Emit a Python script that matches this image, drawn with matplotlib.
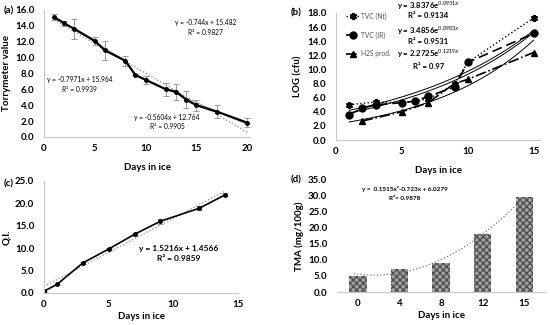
import numpy as np
import matplotlib.pyplot as plt

plt.rcParams['font.family'] = ['Lato', 'DejaVu Sans']
plt.rcParams['mathtext.fontset'] = 'custom'
plt.rcParams['mathtext.rm'] = 'Lato'
plt.rcParams['mathtext.bf'] = 'Lato:bold'

# (a) torrymeter
days_a = [1, 2, 3, 5, 6, 8, 9, 10, 12, 13, 14, 15, 17, 20]
torry = [15.1, 14.3, 13.6, 12.1, 10.9, 9.6, 7.8, 7.2, 6.0, 5.7, 4.7, 4.0, 3.2, 1.8]
torry_err = [0.4, 0.3, 1.2, 0.5, 1.2, 0.6, 0.1, 0.5, 0.8, 1.0, 1.1, 0.7, 0.8, 0.6]
fit_all = (-0.744, 15.482)
fit_early = (-0.7971, 15.964)
fit_late = (-0.5604, 12.764)

# (b) microbial counts
days_nt = [1, 3, 5, 7, 9, 10, 15]
tvc_nt = [5.0, 5.4, 5.3, 5.8, 7.9, 11.0, 17.3]
days_ir = [1, 2, 3, 5, 6, 7, 9, 10, 15]
tvc_ir = [3.6, 4.5, 5.0, 5.3, 5.5, 6.2, 7.5, 11.0, 15.1]
days_h2s = [2, 5, 7, 9, 10, 15]
h2s = [2.7, 4.0, 5.3, 8.0, 8.6, 12.4]
exp_fits = [(3.8376, 0.0931), (3.4856, 0.0983), (2.2725, 0.1219)]

# (c) quality index
days_c = [0, 1, 3, 5, 7, 9, 12, 14]
qi = [0.4, 1.9, 6.7, 9.8, 13.1, 16.0, 18.9, 21.9]
qi_err = [0.1, 0.2, 0.3, 0.3, 0.3, 0.6, 0.4, 0.3]
fit_qi = (1.5216, 1.4566)

# (d) TMA
tma_days = ['0', '4', '8', '12', '15']
tma = [5.1, 7.2, 9.1, 18.2, 29.8]

fig = plt.figure(figsize=(5.5, 3.25), dpi=100)
tick_kw = dict(labelsize=7, length=0, pad=7)
spine_col = '#c8c8c8'
lab_kw = dict(fontsize=7, fontweight='bold')


def style(ax):
    for s in ['top', 'right']:
        ax.spines[s].set_visible(False)
    for s in ['left', 'bottom']:
        ax.spines[s].set_color(spine_col)
        ax.spines[s].set_linewidth(0.8)
    ax.tick_params(**tick_kw)
    ax.tick_params(axis='x', pad=5)
    for lab in ax.get_xticklabels() + ax.get_yticklabels():
        lab.set_fontweight('bold')


# ---- (a)
ax = fig.add_axes([0.08, 0.5785, 0.375, 0.391])
x = np.array([1, 20])
ax.plot(x, fit_all[0] * x + fit_all[1], ':', color='#888888', lw=0.9)
x = np.array([1, 8])
ax.plot(x, fit_early[0] * x + fit_early[1], color='#aaaaaa', lw=0.7)
x = np.array([9, 20])
ax.plot(x, fit_late[0] * x + fit_late[1], color='#aaaaaa', lw=0.7)
ax.errorbar(days_a, torry, yerr=torry_err, fmt='none', ecolor='#9a9a9a',
            elinewidth=0.7, capsize=2, capthick=0.7)
ax.plot(days_a, torry, '-o', color='black', lw=1.6, ms=2.5)
ax.set_xlim(0, 20.3)
ax.set_ylim(0, 16)
ax.set_xticks([0, 5, 10, 15, 20])
ax.set_yticks(np.arange(0, 17, 2))
ax.set_yticklabels([f'{v:.1f}' for v in np.arange(0, 17, 2)])
ax.set_ylabel('Torrymeter value', labelpad=3, **lab_kw)
ax.set_xlabel('Days in ice', labelpad=7, **lab_kw)
style(ax)
eq_kw = dict(fontsize=4.8, ha='center', va='center')
ax.text(15.9, 14.4, 'y = -0.744x + 15.482', **eq_kw)
ax.text(15.9, 13.1, 'R² = 0.9827', **eq_kw)
ax.text(3.5, 7.2, 'y = -0.7971x + 15.964', **eq_kw)
ax.text(3.5, 6.0, 'R² = 0.9939', **eq_kw)
ax.text(12.1, 2.4, 'y = -0.5604x + 12.764', **eq_kw)
ax.text(12.1, 1.3, 'R² = 0.9905', **eq_kw)
fig.text(0.006, 0.965, '(a)', fontsize=7, fontweight='bold', va='center')

# ---- (b)
ax = fig.add_axes([0.611, 0.569, 0.371, 0.391])
xs = np.linspace(1, 15, 100)
for a, b in exp_fits:
    ax.plot(xs, a * np.exp(b * xs), color='black', lw=0.7)
ax.plot(days_nt, tvc_nt, ':', color='black', lw=1.0, marker=(6, 2, 0),
        ms=5, mew=1.5, label='TVC (Nt)')
ax.plot(days_ir, tvc_ir, '-', color='black', lw=1.2, marker='o', ms=5,
        dashes=(6, 3), label='TVC (IR)')
ax.plot(days_h2s, h2s, '-.', color='black', lw=1.2, marker='^', ms=4,
        label='H2S prod.')
ax.set_xlim(0, 15.5)
ax.set_ylim(0, 18)
ax.set_xticks([0, 5, 10, 15])
ax.set_yticks(np.arange(0, 19, 2))
ax.set_yticklabels([f'{v:.1f}' for v in np.arange(0, 19, 2)])
ax.set_ylabel('LOG (cfu)', labelpad=3, **lab_kw)
ax.set_xlabel('Days in ice', labelpad=7, **lab_kw)
style(ax)
leg = ax.legend(loc='upper left', bbox_to_anchor=(0.02, 1.05), frameon=False,
                fontsize=4.8, handlelength=2.0, labelspacing=1.75,
                handletextpad=0.3)
for t in leg.get_texts():
    t.set_color('#555555')
eqs = ['y = 3.8376e$^{0.0931x}$', 'R² = 0.9134',
       'y = 3.4856e$^{0.0983x}$', 'R² = 0.9531',
       'y = 2.2725e$^{0.1219x}$', 'R² = 0.97']
for t, yy in zip(eqs, [19.1, 17.6, 15.5, 13.9, 12.2, 10.4]):
    ax.text(7.0, yy, t, fontsize=5.6, fontweight='bold', ha='center',
            va='center', clip_on=False)
fig.text(0.528, 0.96, '(b)', fontsize=7, fontweight='bold', va='center')

# ---- (c)
ax = fig.add_axes([0.08, 0.0985, 0.353, 0.345])
x = np.array([0, 14])
ax.plot(x, fit_qi[0] * x + fit_qi[1], ':', color='#888888', lw=0.9)
ax.errorbar(days_c, qi, yerr=qi_err, fmt='none', ecolor='#9a9a9a',
            elinewidth=0.7, capsize=2, capthick=0.7)
ax.plot(days_c, qi, '-o', color='black', lw=1.2, ms=2.5)
ax.set_xlim(0, 15)
ax.set_ylim(0, 25)
ax.set_xticks([0, 5, 10, 15])
ax.set_yticks(np.arange(0, 26, 5))
ax.set_yticklabels([f'{v:.1f}' for v in np.arange(0, 26, 5)])
ax.set_ylabel('Q.I.', labelpad=3, **lab_kw)
ax.set_xlabel('Days in ice', labelpad=2, **lab_kw)
style(ax)
ax.text(10.4, 10.0, 'y = 1.5216x + 1.4566', fontsize=6, fontweight='bold',
        ha='center', va='center')
ax.text(10.4, 7.8, 'R² = 0.9859', fontsize=6, fontweight='bold',
        ha='center', va='center')
fig.text(0.006, 0.435, '(c)', fontsize=7, fontweight='bold', va='center')

# ---- (d)
ax = fig.add_axes([0.613, 0.1015, 0.378, 0.345])
pos = np.arange(len(tma))
plt.rcParams['hatch.color'] = '#4a4a4a'
plt.rcParams['hatch.linewidth'] = 0.9
ax.bar(pos, tma, width=0.42, color='#a0a0a0', hatch='xxxxx', lw=0)
coef = np.polyfit(pos, tma, 2)
xs = np.linspace(-0.1, 4, 100)
ax.plot(xs, np.polyval(coef, xs), ':', color='#777777', lw=0.9)
ax.set_xlim(-0.5, 4.5)
ax.set_ylim(0, 35)
ax.set_xticks(pos)
ax.set_xticklabels(tma_days)
ax.set_yticks(np.arange(0, 36, 5))
ax.set_yticklabels([f'{v:.1f}' for v in np.arange(0, 36, 5)])
ax.set_ylabel('TMA (mg/100g)', labelpad=3, **lab_kw)
ax.set_xlabel('Days in ice', labelpad=2, **lab_kw)
style(ax)
ax.spines['left'].set_visible(False)
ax.text(1.13, 32.0, 'y =  0.1515x²-0.723x + 6.0279', fontsize=4.6,
        fontweight='bold', ha='center', va='center')
ax.text(1.13, 29.3, 'R²= 0.9878', fontsize=4.6, fontweight='bold',
        ha='center', va='center')
fig.text(0.528, 0.445, '(d)', fontsize=7, fontweight='bold', va='center')

fig.savefig('out.png', dpi=100)
